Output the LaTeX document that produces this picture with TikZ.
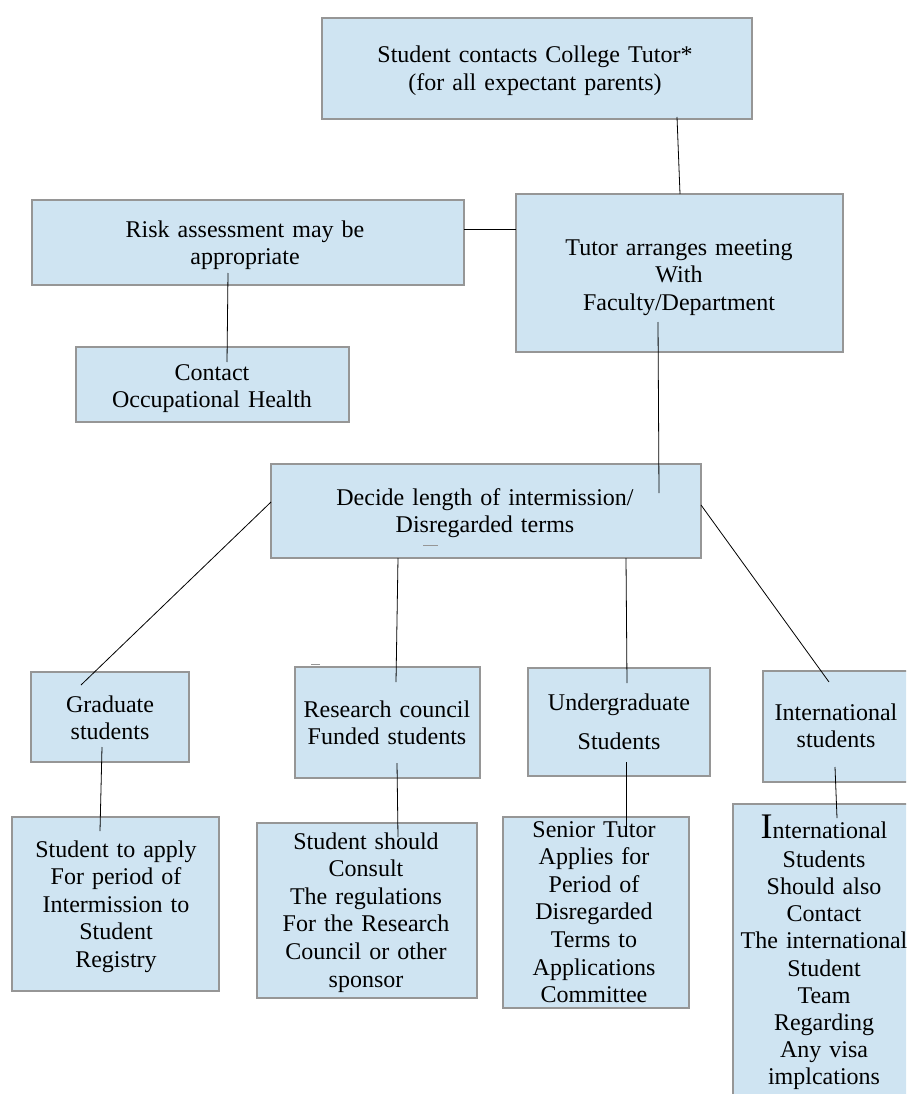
\documentclass[tikz,border=0pt]{standalone}
\usepackage{fontspec}
\setmainfont{Liberation Serif}
\definecolor{boxfill}{RGB}{207,228,242}
\definecolor{boxline}{RGB}{150,150,150}
\begin{document}
\begin{tikzpicture}[x=1pt,y=-1pt,
  box/.style={draw=boxline,fill=boxfill,line width=1.2pt,inner sep=0pt},
  txt/.style={anchor=base,align=center,text width=320pt,inner sep=0pt,
    font=\fontsize{24}{27.6}\selectfont},
  link/.style={black,line width=0.8pt}]
\useasboundingbox (0,0) rectangle (906,1094);
\clip (0,0) rectangle (906,1094);
% boxes
\node[box,minimum width=430,minimum height=101] (start) at (537,68.5) {};
\node[box,minimum width=432,minimum height=85] (risk) at (248,242.5) {};
\node[box,minimum width=327,minimum height=158] (tutor) at (679.5,273) {};
\node[box,minimum width=273,minimum height=75] (health) at (212.5,384.5) {};
\node[box,minimum width=430,minimum height=94] (decide) at (486,511) {};
\node[box,minimum width=158,minimum height=90] (grad) at (110,717) {};
\node[box,minimum width=185,minimum height=111] (rcouncil) at (387.5,722.5) {};
\node[box,minimum width=182,minimum height=108] (ugrad) at (619,722) {};
\node[box,minimum width=146,minimum height=111] (intl) at (836,726.5) {};
\node[box,minimum width=207,minimum height=174] (apply) at (115.5,904) {};
\node[box,minimum width=220,minimum height=175] (consult) at (367,910.5) {};
\node[box,minimum width=186,minimum height=191] (senior) at (596,912.5) {};
\node[box,minimum width=182,minimum height=306] (visa) at (824,957) {};
% texts
\node[txt] (start-t) at (535,63) {Student contacts College Tutor*\\(for all expectant parents)};
\node[txt] (risk-t) at (245,237) {Risk assessment may be\\appropriate};
\node[txt] (tutor-t) at (679,255) {Tutor arranges meeting\\With\\Faculty/Department};
\node[txt] (health-t) at (212,380) {Contact\\Occupational Health};
\node[txt] (decide-t) at (485,505) {Decide length of intermission/\\Disregarded terms};
\node[txt] (grad-t) at (110,712) {Graduate\\students};
\node[txt] (rcouncil-t) at (387,717) {Research council\\Funded students};
\node[txt] (ugrad-t) at (619,710) {Undergraduate\\[12pt]Students};
\node[txt] (intl-t) at (836,720) {International\\students};
\node[txt] (apply-t) at (116,857) {Student to apply\\For period of\\Intermission to\\Student\\Registry};
\node[txt] (consult-t) at (366,849) {Student should\\Consult\\The regulations\\For the Research\\Council or other\\sponsor};
\node[txt] (senior-t) at (594,837) {Senior Tutor\\Applies for\\Period of\\Disregarded\\Terms to\\Applications\\Committee};
\node[txt,font=\fontsize{24}{27.2}\selectfont] (visa-t) at (824,838) {{\fontsize{36}{36}\selectfont I}nternational\\[2pt]Students\\Should also\\Contact\\The international\\Student\\Team\\Regarding\\Any visa\\implcations};
% stray marks
\draw[boxline,line width=1pt] (423,545) -- (438,545);
\draw[boxline,line width=1pt] (311,664) -- (320,664);
% connectors
\coordinate (start-o) at (677,117);
\coordinate (tutor-i) at (680,194);
\coordinate (risk-o) at (464,229);
\coordinate (tutor-w) at (516,229);
\coordinate (risk-d) at (228,273);
\coordinate (health-i) at (227,362);
\coordinate (tutor-o) at (658,322);
\coordinate (decide-i) at (659,493);
\coordinate (decide-w) at (271,502);
\coordinate (grad-i) at (81,685);
\coordinate (decide-s1) at (398,558);
\coordinate (rcouncil-i) at (396,682);
\coordinate (decide-s2) at (626,558);
\coordinate (ugrad-i) at (627,683);
\coordinate (decide-e) at (701,505);
\coordinate (intl-i) at (829,682);
\coordinate (grad-o) at (102,747);
\coordinate (apply-i) at (100,831);
\coordinate (rcouncil-o) at (397,763);
\coordinate (consult-i) at (398,837);
\coordinate (ugrad-o) at (626,762);
\coordinate (senior-i) at (626,828);
\coordinate (intl-o) at (835,767);
\coordinate (visa-i) at (837,818);
\draw[link] (start-o) -- (tutor-i);
\draw[link] (risk-o) -- (tutor-w);
\draw[link] (risk-d) -- (health-i);
\draw[link] (tutor-o) -- (decide-i);
\draw[link] (decide-w) -- (grad-i);
\draw[link] (decide-s1) -- (rcouncil-i);
\draw[link] (decide-s2) -- (ugrad-i);
\draw[link] (decide-e) -- (intl-i);
\draw[link] (grad-o) -- (apply-i);
\draw[link] (rcouncil-o) -- (consult-i);
\draw[link] (ugrad-o) -- (senior-i);
\draw[link] (intl-o) -- (visa-i);
\end{tikzpicture}
\end{document}
